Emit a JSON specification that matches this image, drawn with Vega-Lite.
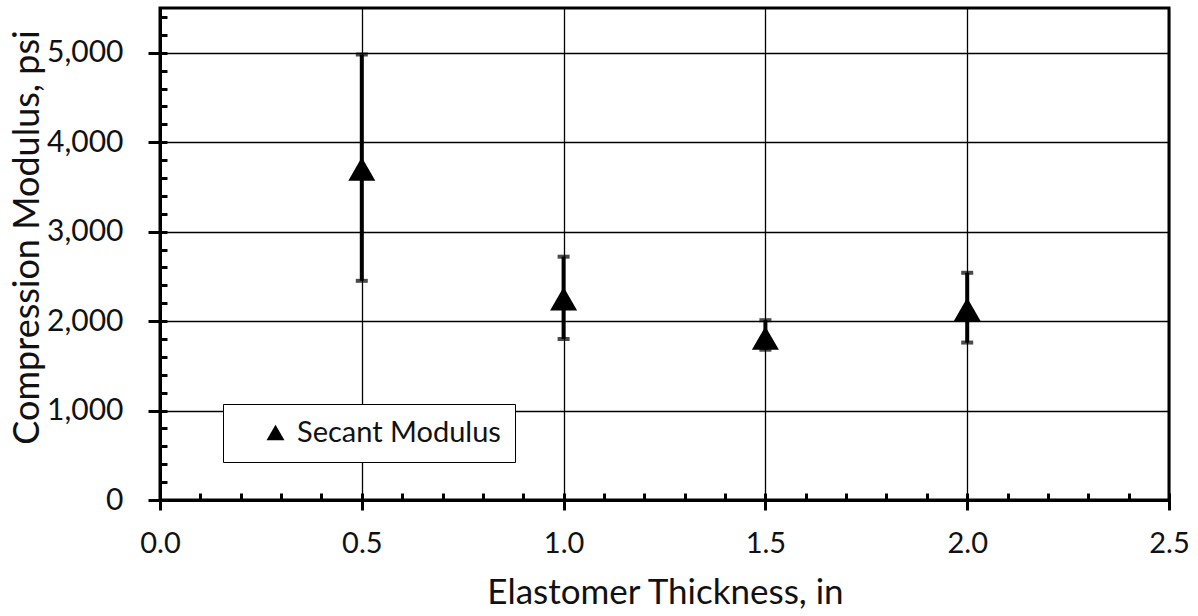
{
  "$schema": "https://vega.github.io/schema/vega-lite/v6.json",
  "width": 1009,
  "height": 492,
  "autosize": {"type": "none"},
  "padding": {"left": 160, "top": 8, "right": 29, "bottom": 116},
  "background": "white",
  "config": {
    "font": "Lato",
    "view": {"stroke": "black", "strokeWidth": 3},
    "axis": {"labelFont": "Lato", "titleFont": "Lato", "labelColor": "#111", "titleColor": "#111", "titleFontWeight": "normal"}
  },
  "data": {
    "values": [
      {"thickness": 0.5, "modulus": 3700, "low": 2450, "high": 4980, "series": "Secant Modulus"},
      {"thickness": 1.0, "modulus": 2250, "low": 1800, "high": 2720, "series": "Secant Modulus"},
      {"thickness": 1.5, "modulus": 1810, "low": 1680, "high": 2010, "series": "Secant Modulus"},
      {"thickness": 2.0, "modulus": 2130, "low": 1760, "high": 2540, "series": "Secant Modulus"}
    ]
  },
  "layer": [
    {
      "mark": {"type": "rule", "color": "black", "strokeWidth": 4},
      "encoding": {
        "x": {"field": "thickness", "type": "quantitative", "scale": {"domain": [0, 2.5], "nice": false, "zero": false},
          "axis": {"orient": "bottom", "values": [0,0.1,0.2,0.3,0.4,0.5,0.6,0.7,0.8,0.9,1.0,1.1,1.2,1.3,1.4,1.5,1.6,1.7,1.8,1.9,2.0,2.1,2.2,2.3,2.4,2.5],
            "tickSize": -7, "tickWidth": 3, "tickColor": "black", "labels": false, "domain": false, "grid": false, "title": null}},
        "y": {"field": "low", "type": "quantitative", "scale": {"domain": [0, 5500], "nice": false},
          "axis": {"orient": "left", "values": [0,200,400,600,800,1000,1200,1400,1600,1800,2000,2200,2400,2600,2800,3000,3200,3400,3600,3800,4000,4200,4400,4600,4800,5000,5200,5400],
            "tickSize": -7, "tickWidth": 3, "tickColor": "black", "labels": false, "domain": false, "grid": false, "title": null}},
        "y2": {"field": "high"}
      }
    },
    {
      "mark": {"type": "tick", "color": "black", "orient": "horizontal", "size": 12, "thickness": 4},
      "encoding": {
        "x": {"field": "thickness", "type": "quantitative", "axis": null},
        "y": {"field": "low", "type": "quantitative", "axis": null}
      }
    },
    {
      "mark": {"type": "tick", "color": "black", "orient": "horizontal", "size": 12, "thickness": 4},
      "encoding": {
        "x": {"field": "thickness", "type": "quantitative", "axis": null},
        "y": {"field": "high", "type": "quantitative", "axis": null}
      }
    },
    {
      "mark": {"type": "point", "filled": true, "fill": "black", "size": 729, "opacity": 1},
      "encoding": {
        "x": {"field": "thickness", "type": "quantitative",
          "axis": {"orient": "bottom", "values": [0, 0.5, 1.0, 1.5, 2.0, 2.5], "format": ".1f",
            "tickSize": 10, "tickWidth": 3, "tickColor": "black", "domainColor": "black", "domainWidth": 3,
            "grid": true, "gridColor": "black", "gridWidth": 1.3, "gridOpacity": 1,
            "labelFontSize": 29, "labelBaseline": "alphabetic", "labelPadding": 42, "labelFlush": false, "labelAlign": "center",
            "title": "Elastomer Thickness, in", "titleFontSize": 35, "titleBaseline": "alphabetic", "titleX": 505, "titleY": 103, "titleAnchor": "middle", "titleAlign": "center"}},
        "y": {"field": "modulus", "type": "quantitative",
          "axis": {"orient": "left", "values": [0, 1000, 2000, 3000, 4000, 5000], "format": ",d",
            "tickSize": 12, "tickWidth": 3, "tickColor": "black", "domainColor": "black", "domainWidth": 3,
            "grid": true, "gridColor": "black", "gridWidth": 1.3, "gridOpacity": 1,
            "labelFontSize": 30, "labelPadding": 25, "labelFlush": false,
            "title": "Compression Modulus, psi", "titleFontSize": 36, "titleAngle": -90, "titleBaseline": "alphabetic", "titleAlign": "center", "titleX": -122, "titleY": 229}},
        "shape": {"field": "series", "type": "nominal", "scale": {"range": ["triangle-up"]},
          "legend": {"orient": "none", "legendX": 63, "legendY": 396, "title": null,
            "strokeColor": "black", "fillColor": "white", "padding": 14,
            "symbolSize": 324, "symbolFillColor": "black", "symbolStrokeWidth": 0, "symbolOffset": 24,
            "labelFont": "Lato", "labelFontSize": 29, "labelColor": "#111", "labelOffset": 7, "labelLimit": 0,
            "labelExpr": "datum.label + '\u00a0\u00a0'"}}
      }
    }
  ],
  "resolve": {"axis": {"x": "independent", "y": "independent"}}
}
